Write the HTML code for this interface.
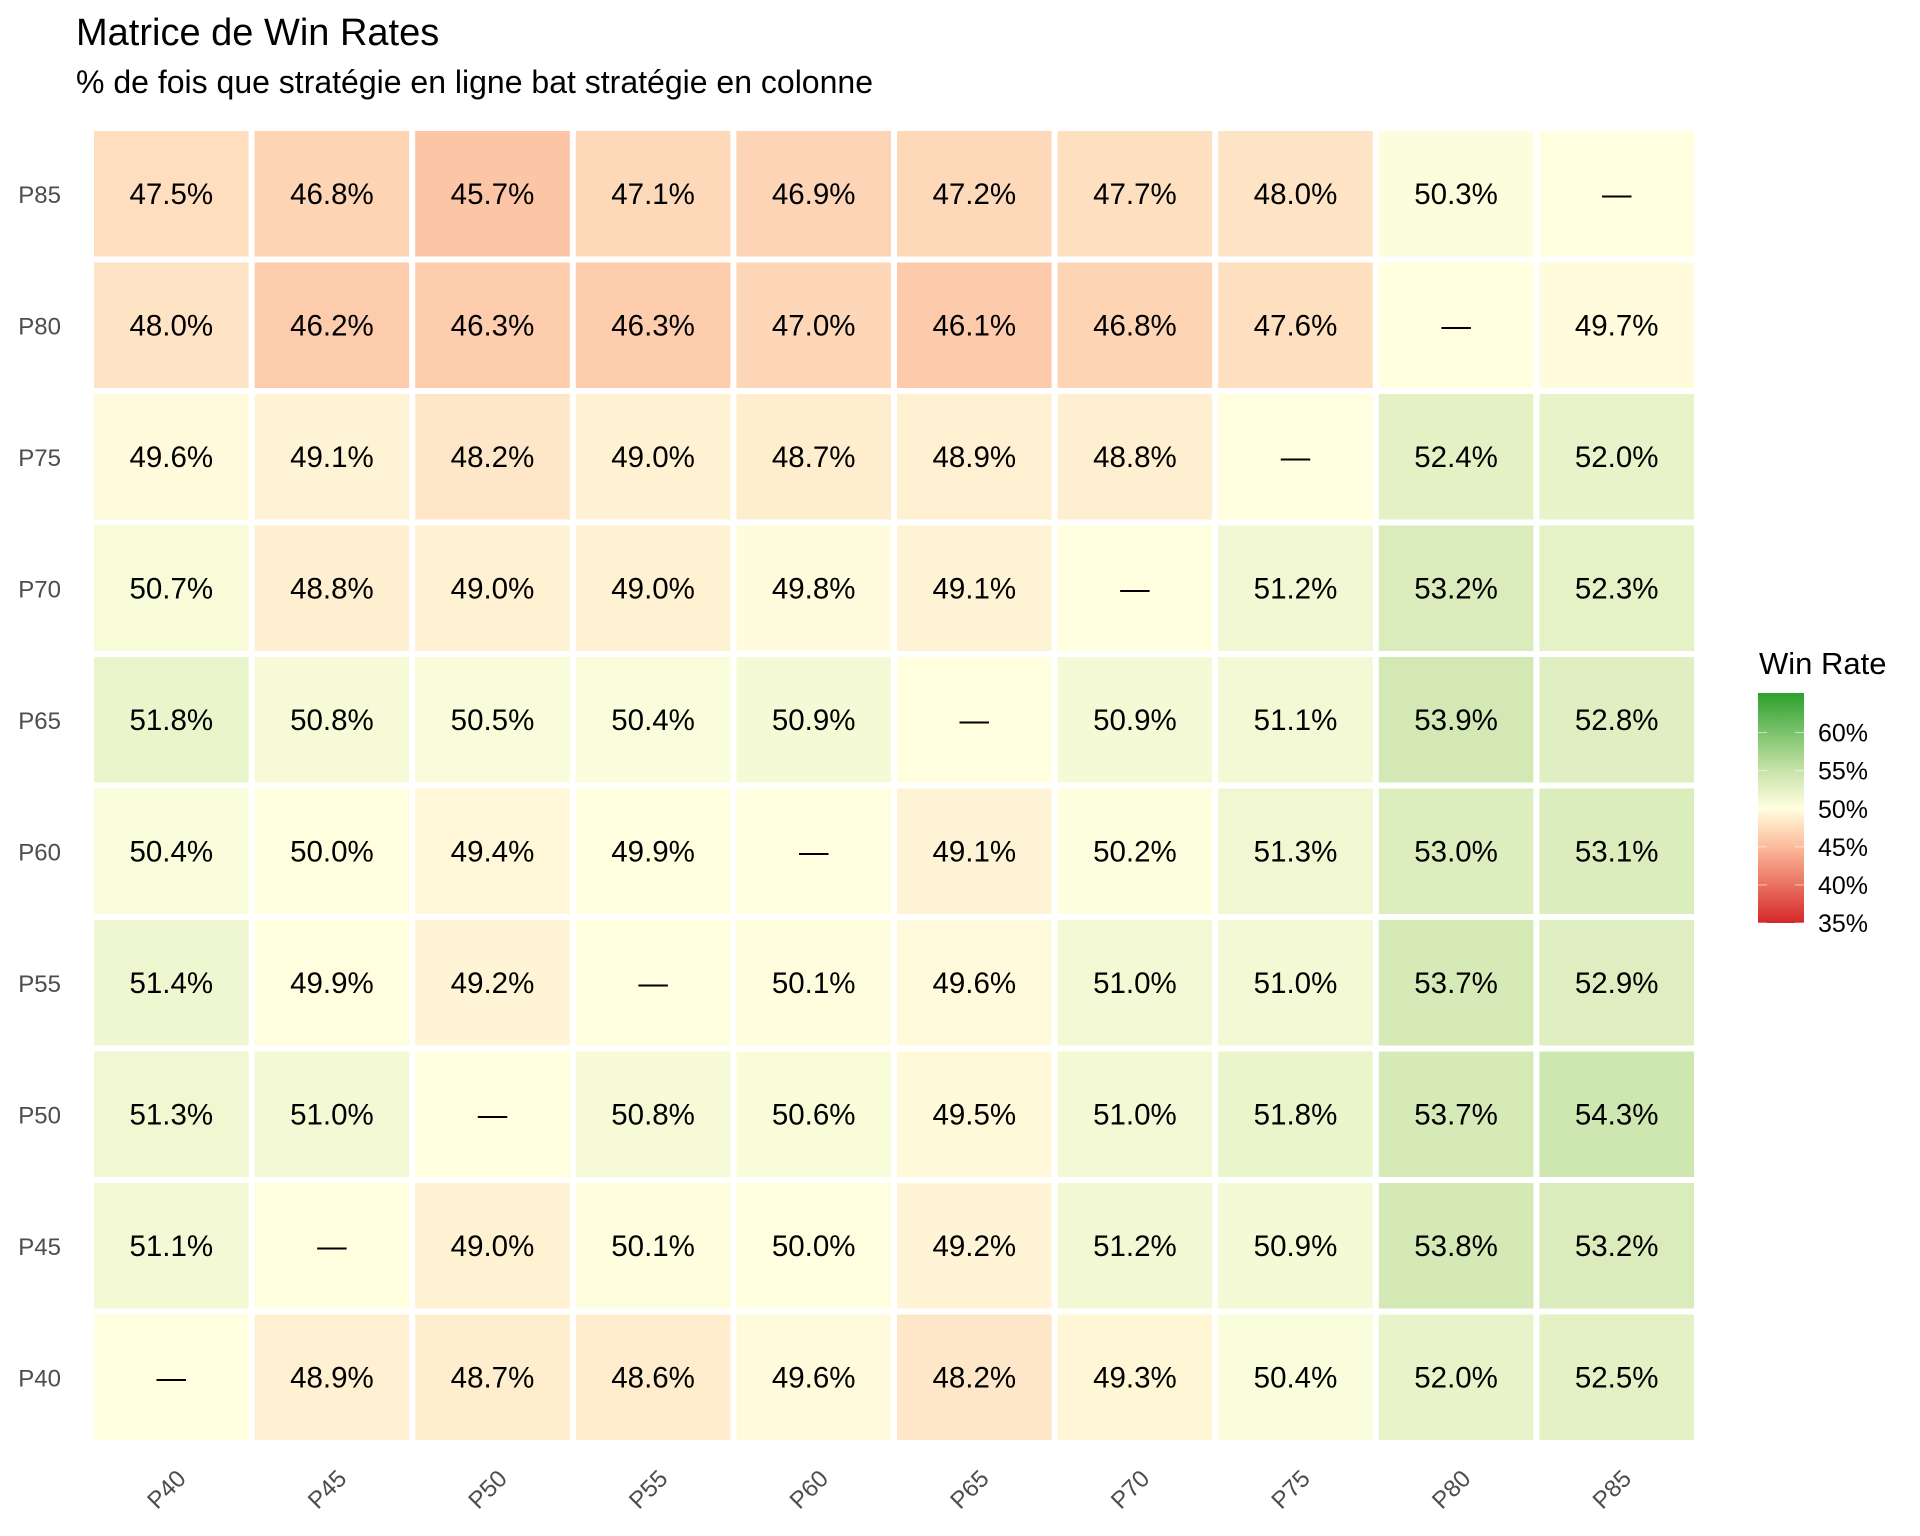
<!DOCTYPE html>
<html><head><meta charset="utf-8"><style>
html,body{margin:0;padding:0;background:#fff;}
svg{display:block;font-family:"Liberation Sans",Arial,sans-serif;}
</style></head><body>
<svg id="chart" width="1920" height="1536" viewBox="0 0 1920 1536">
<text x="76" y="45" font-size="38" fill="#000">Matrice de Win Rates</text>
<text x="76" y="93" font-size="32" fill="#000">% de fois que stratégie en ligne bat stratégie en colonne</text>
<g id="cells"></g>
<g id="xlabels"></g>
<g id="ylabels"></g>
<g id="legend">
<text x="1759" y="674" font-size="31" fill="#000">Win Rate</text>
<defs><linearGradient id="lg" x1="0" y1="1" x2="0" y2="0">
<stop offset="0" stop-color="rgb(214,39,40)"/>
<stop offset="0.333" stop-color="rgb(252,188,156)"/>
<stop offset="0.5" stop-color="rgb(255,255,224)"/>
<stop offset="0.667" stop-color="rgb(198,226,168)"/>
<stop offset="1" stop-color="rgb(44,160,44)"/>
</linearGradient></defs>
<rect x="1758" y="693" width="46" height="230" fill="url(#lg)"/>
<g id="legticks"></g>
</g>
</svg>
<script>
const cols = ["P40","P45","P50","P55","P60","P65","P70","P75","P80","P85"];
const rows = ["P85","P80","P75","P70","P65","P60","P55","P50","P45","P40"];
const values = [
 [47.5,46.8,45.7,47.1,46.9,47.2,47.7,48.0,50.3,null],
 [48.0,46.2,46.3,46.3,47.0,46.1,46.8,47.6,null,49.7],
 [49.6,49.1,48.2,49.0,48.7,48.9,48.8,null,52.4,52.0],
 [50.7,48.8,49.0,49.0,49.8,49.1,null,51.2,53.2,52.3],
 [51.8,50.8,50.5,50.4,50.9,null,50.9,51.1,53.9,52.8],
 [50.4,50.0,49.4,49.9,null,49.1,50.2,51.3,53.0,53.1],
 [51.4,49.9,49.2,null,50.1,49.6,51.0,51.0,53.7,52.9],
 [51.3,51.0,null,50.8,50.6,49.5,51.0,51.8,53.7,54.3],
 [51.1,null,49.0,50.1,50.0,49.2,51.2,50.9,53.8,53.2],
 [null,48.9,48.7,48.6,49.6,48.2,49.3,50.4,52.0,52.5]
];
const legendTicks = [35,40,45,50,55,60];

const NS="http://www.w3.org/2000/svg";
const X0=91, PW=160.6, Y0=128, PH=131.5, GAP=6;
function xPos(i){return X0+i*PW;}
function yPos(j){return Y0+j*PH;}
const stops=[[35,[214,39,40]],[45,[252,188,156]],[50,[255,255,224]],[55,[198,226,168]],[65,[44,160,44]]];
function color(v){
  if(v===null) v=50;
  v=Math.max(35,Math.min(65,v));
  for(let k=0;k<stops.length-1;k++){
    const [a,ca]=stops[k],[b,cb]=stops[k+1];
    if(v<=b){const t=(v-a)/(b-a);return "rgb("+ca.map((c,i)=>Math.round(c+(cb[i]-c)*t)).join(",")+")";}
  }
  return "rgb(44,160,44)";
}
function mk(tag,attrs,parent){const e=document.createElementNS(NS,tag);for(const k in attrs)e.setAttribute(k,attrs[k]);parent.appendChild(e);return e;}
const gc=document.getElementById("cells");
rows.forEach((r,j)=>{cols.forEach((c,i)=>{
  const v=values[j][i];
  const rect=mk("rect",{x:xPos(i)+GAP/2,y:yPos(j)+GAP/2,width:PW-GAP,height:PH-GAP,fill:color(v)},gc);
  
  
  const t=mk("text",{x:xPos(i)+PW/2,y:yPos(j)+PH/2+10,"font-size":29.5,"text-anchor":"middle",fill:"#000"},gc);
  t.textContent = v===null ? "—" : v.toFixed(1)+"%";
  
  
});});
const gy=document.getElementById("ylabels");
rows.forEach((r,j)=>{
  const t=mk("text",{x:61,y:yPos(j)+PH/2+9,"font-size":24,"text-anchor":"end",fill:"#4d4d4d"},gy);
  t.textContent=r;
  
  
});
const gx=document.getElementById("xlabels");
cols.forEach((c,i)=>{
  const x=xPos(i)+PW/2+16, y=1480;
  const t=mk("text",{x:x,y:y,"font-size":24,"text-anchor":"end",fill:"#4d4d4d",transform:"rotate(-45 "+x+" "+y+")"},gx);
  t.textContent=c;
  
  
});
const gl=document.getElementById("legticks");
function ly(v){return 923-(v-35)*(230/30.2);}
legendTicks.forEach(v=>{
  const y=ly(v);
  mk("line",{x1:1758,x2:1767,y1:y,y2:y,stroke:"#fff","stroke-opacity":0.6,"stroke-width":1},gl);
  mk("line",{x1:1795,x2:1804,y1:y,y2:y,stroke:"#fff","stroke-opacity":0.6,"stroke-width":1},gl);
  const t=mk("text",{x:1818,y:y+9,"font-size":25,fill:"#000"},gl);
  t.textContent=v+"%";
  
  
});
</script>
</body></html>
